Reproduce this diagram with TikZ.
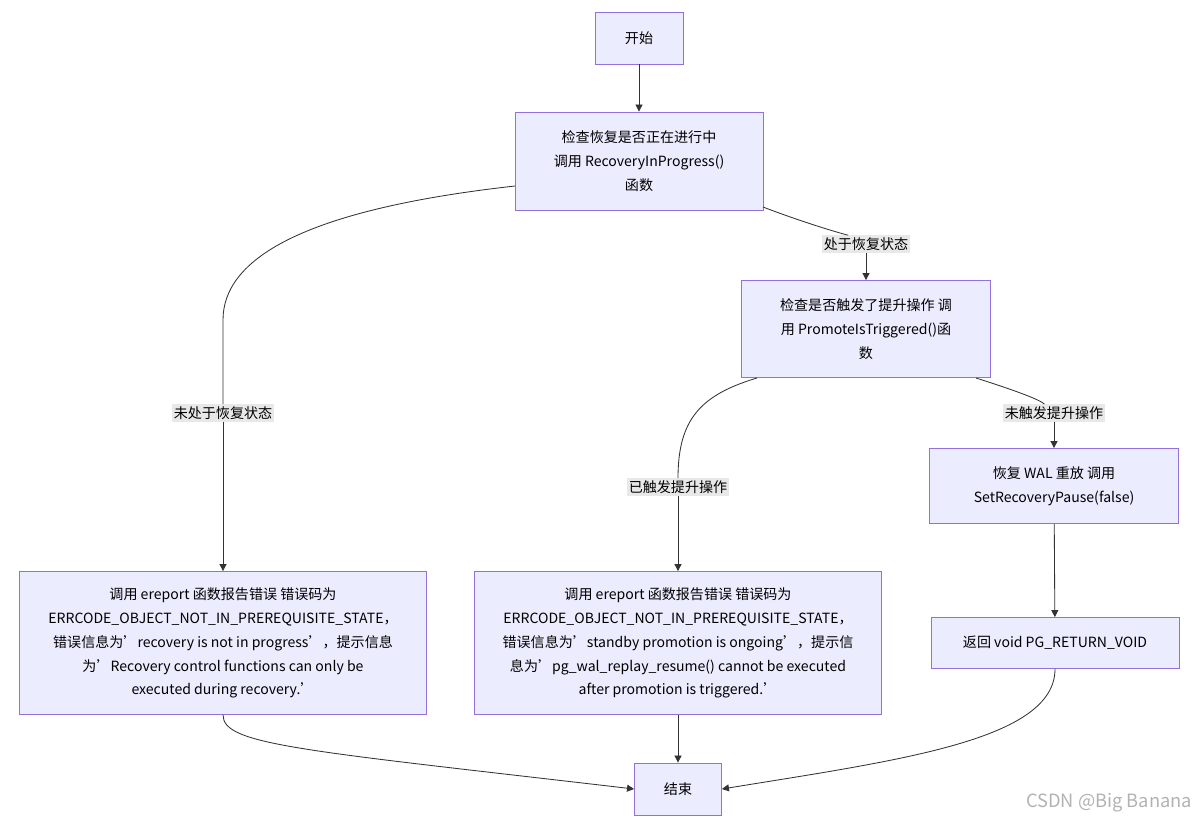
\documentclass[tikz,border=0pt]{standalone}
\usepackage{fontspec}
\setmainfont{Noto Sans CJK SC}
\usetikzlibrary{arrows.meta}
\definecolor{boxfill}{HTML}{ECECFF}
\definecolor{boxline}{HTML}{9370DB}
\definecolor{edgeline}{HTML}{333333}
\definecolor{lblfill}{HTML}{E8E8E8}
\tikzset{
  box/.style={draw=boxline, fill=boxfill, line width=0.6pt, align=center,
    font=\fontsize{10}{17}\selectfont, inner sep=0pt},
  lbl/.style={fill=lblfill, inner sep=1.5pt, font=\fontsize{10}{12}\selectfont},
  flow/.style={draw=edgeline, line width=0.6pt},
  arr/.style={flow, -{Triangle[length=5pt,width=5pt]}}
}
\begin{document}
\begin{tikzpicture}[x=0.025cm, y=-0.025cm]
    \useasboundingbox (0,0) rectangle (1201,823);
    % nodes
    \node[box, minimum width=88*0.025cm, minimum height=52*0.025cm] (start) at (639,38) {开始};
    \node[box, minimum width=248*0.025cm, minimum height=98*0.025cm] (check1) at (639,161)
      {检查恢复是否正在进行中\\调用 RecoveryInProgress()\\函数};
    \node[box, minimum width=249*0.025cm, minimum height=97*0.025cm] (check2) at (866,329)
      {检查是否触发了提升操作 调\\用 PromoteIsTriggered()函\\数};
    \node[box, minimum width=249*0.025cm, minimum height=75*0.025cm] (resume) at (1054,486)
      {恢复 WAL 重放 调用\\SetRecoveryPause(false)};
    \node[box, minimum width=407*0.025cm, minimum height=143*0.025cm] (err1) at (223,643)
      {调用 ereport 函数报告错误 错误码为\\ERRCODE\_OBJECT\_NOT\_IN\_PREREQUISITE\_STATE，\\错误信息为'recovery is not in progress'，提示信息\\为'Recovery control functions can only be\\executed during recovery.'};
    \node[box, minimum width=407*0.025cm, minimum height=143*0.025cm] (err2) at (678,643)
      {调用 ereport 函数报告错误 错误码为\\ERRCODE\_OBJECT\_NOT\_IN\_PREREQUISITE\_STATE，\\错误信息为'standby promotion is ongoing'，提示信\\息为'pg\_wal\_replay\_resume() cannot be executed\\after promotion is triggered.'};
    \node[box, minimum width=248*0.025cm, minimum height=51*0.025cm] (ret) at (1055,643)
      {返回 void PG\_RETURN\_VOID};
    \node[box, minimum width=87*0.025cm, minimum height=52*0.025cm] (end) at (678,789) {结束};

    % edge labels
    \node[lbl] (l1) at (866,244) {处于恢复状态};
    \node[lbl] (l2) at (223,413) {未处于恢复状态};
    \node[lbl] (l3) at (678,487) {已触发提升操作};
    \node[lbl] (l4) at (1054,413) {未触发提升操作};

    % connectors
    \draw[arr] (start) -- (check1);
    \coordinate (c1a) at (515,186);
    \coordinate (c1b) at (763,207);
    \draw[flow] (c1a) .. controls (300,210) and (223,260) .. (223,320) -- (l2);
    \draw[arr] (l2) -- (err1);
    \draw[flow] (c1b) .. controls (810,225) and (850,236) .. (l1);
    \draw[arr] (l1.south) .. controls (866,262) .. (check2);
    \coordinate (c2a) at (757,378);
    \coordinate (c2b) at (976,378);
    \draw[flow] (c2a) .. controls (700,395) and (678,420) .. (l3);
    \draw[arr] (l3) -- (err2);
    \draw[flow] (c2b) .. controls (1020,392) and (1040,400) .. (l4);
    \draw[arr] (l4.south) .. controls (1054,430) .. (resume);
    \draw[arr] (resume) -- (ret);
    \draw[arr] (err2) -- (end);
    \draw[arr] (err1.south) .. controls (223,745) and (300,750) .. (end.west);
    \draw[arr] (ret.south) .. controls (1055,740) and (900,760) .. (end.east);

    % watermark
    \node[text=gray!60, font=\fontsize{13}{13}\selectfont, anchor=east] (mark) at (1197,803) {CSDN @Big Banana};
\end{tikzpicture}
\end{document}
